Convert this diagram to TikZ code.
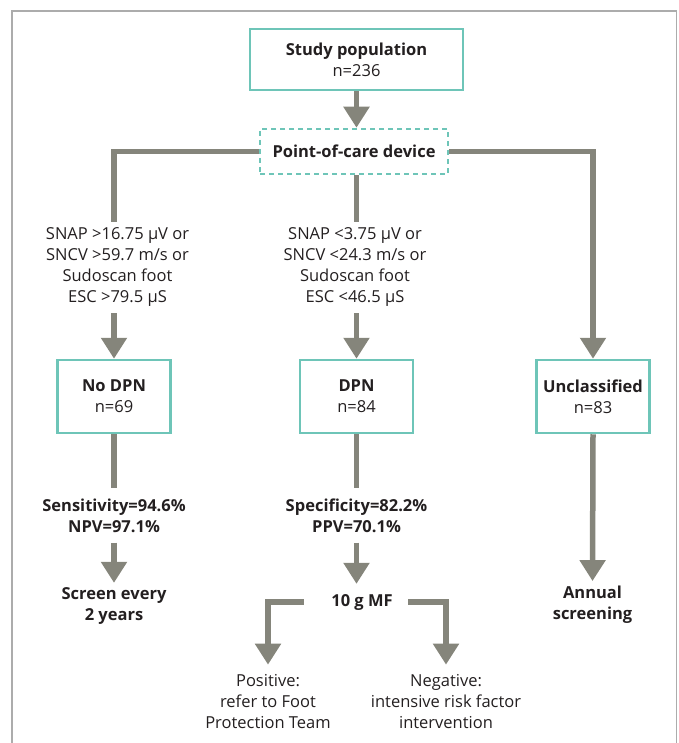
\documentclass[tikz,border=0pt]{standalone}
\usepackage{fontspec}
\setmainfont{Open Sans}
\usepackage{tikz}
\usetikzlibrary{positioning,arrows.meta}

\definecolor{boxteal}{RGB}{110,197,184}
\definecolor{flowgray}{RGB}{133,133,123}
\definecolor{framegray}{RGB}{172,172,172}
\definecolor{inkblack}{RGB}{35,31,32}

\begin{document}
\begin{tikzpicture}[x=1pt, y=1pt,
every node/.style={font=\fontsize{16.5}{21}\selectfont, text=inkblack},
box/.style={draw=boxteal, line width=2.5pt, fill=white, align=center, minimum width=113pt, minimum height=73pt},
dashbox/.style={draw=boxteal, line width=2.5pt, dash pattern=on 5pt off 4pt, fill=white, minimum width=188pt, minimum height=45pt, font=\fontsize{16.5}{21}\selectfont\bfseries},
crit/.style={align=center, inner sep=6pt},
choice/.style={align=center, inner sep=10pt},
stat/.style={align=center, inner sep=10pt, font=\fontsize{16.5}{21}\selectfont\bfseries},
result/.style={align=center, inner sep=5pt, font=\fontsize{16.5}{21}\selectfont\bfseries},
flow/.style={draw=flowgray, line width=5.5pt},
flowarrow/.style={flow, -{Triangle[width=25pt, length=21pt]}}
]
    \useasboundingbox (0,0) rectangle (678,-743);
    \draw[framegray, line width=1.3pt] (12,-743) -- (12,-11) -- (676.5,-11) -- (676.5,-743);

    %Nodes
    \node[box, minimum width=213pt, minimum height=61pt]
        (study)     at (356.5,-59.5)        {\textbf{Study population}\\n=236};
    \node[dashbox]
        (pcd)       at (354,-151.5)         {Point-of-care device};
    \node[box]
        (nodpn)     at (114,-396.5)         {\textbf{No DPN}\\n=69};
    \node[box]
        (dpn)       [right=127pt of nodpn]  {\textbf{DPN}\\n=84};
    \node[box]
        (uncl)      [right=121pt of dpn]    {\textbf{Unclassified}\\n=83};
    \node[crit]
        (lblno)     at (117.5,-267.5)       {SNAP >16.75 µV or\\SNCV >59.7 m/s or\\Sudoscan foot\\ESC >79.5 µS};
    \node[crit]
        (lbldpn)    at (355,-267.5)         {SNAP <3.75 µV or\\SNCV <24.3 m/s or\\Sudoscan foot\\ESC <46.5 µS};
    \node[stat]
        (sens)      at (114,-515.5)         {Sensitivity=94.6\%\\NPV=97.1\%};
    \node[stat]
        (spec)      at (356.5,-515.5)       {Specificity=82.2\%\\PPV=70.1\%};
    \node[result]
        (screen)    at (114,-606.5)         {Screen every\\2 years};
    \node[stat, minimum width=92pt]
        (mf)        at (362,-602)           {10 g MF};
    \node[result]
        (annual)    at (592.5,-605)         {Annual\\screening};
    \node[choice]
        (pos)       at (268,-702)           {Positive:\\refer to Foot\\Protection Team};
    \node[choice]
        (neg)       at (446,-702)           {Negative:\\intensive risk factor\\intervention};

    %Lines
    \draw[flowarrow] (study.south) -- (pcd.north -| study);
    \draw[flow] (pcd.west) -| (lblno.north -| nodpn);
    \draw[flowarrow] (lblno.south -| nodpn) -- (nodpn.north);
    \draw[flow] (pcd.south -| dpn) -- (lbldpn.north -| dpn);
    \draw[flowarrow] (lbldpn.south -| dpn) -- (dpn.north);
    \draw[flowarrow] (pcd.east) -| (uncl.north);
    \draw[flow] (nodpn.south) -- (sens.north -| nodpn);
    \draw[flowarrow] (sens.south -| nodpn) -- (screen.north -| nodpn);
    \draw[flow] (dpn.south) -- (spec.north -| dpn);
    \draw[flowarrow] (spec.south -| dpn) -- (mf.north -| dpn);
    \draw[flowarrow, shorten <=12pt] (mf.west) -| (pos.north);
    \draw[flowarrow] (mf.east) -| (neg.north);
    \draw[flowarrow] (uncl.south) -- (annual.north);
\end{tikzpicture}
\end{document}
